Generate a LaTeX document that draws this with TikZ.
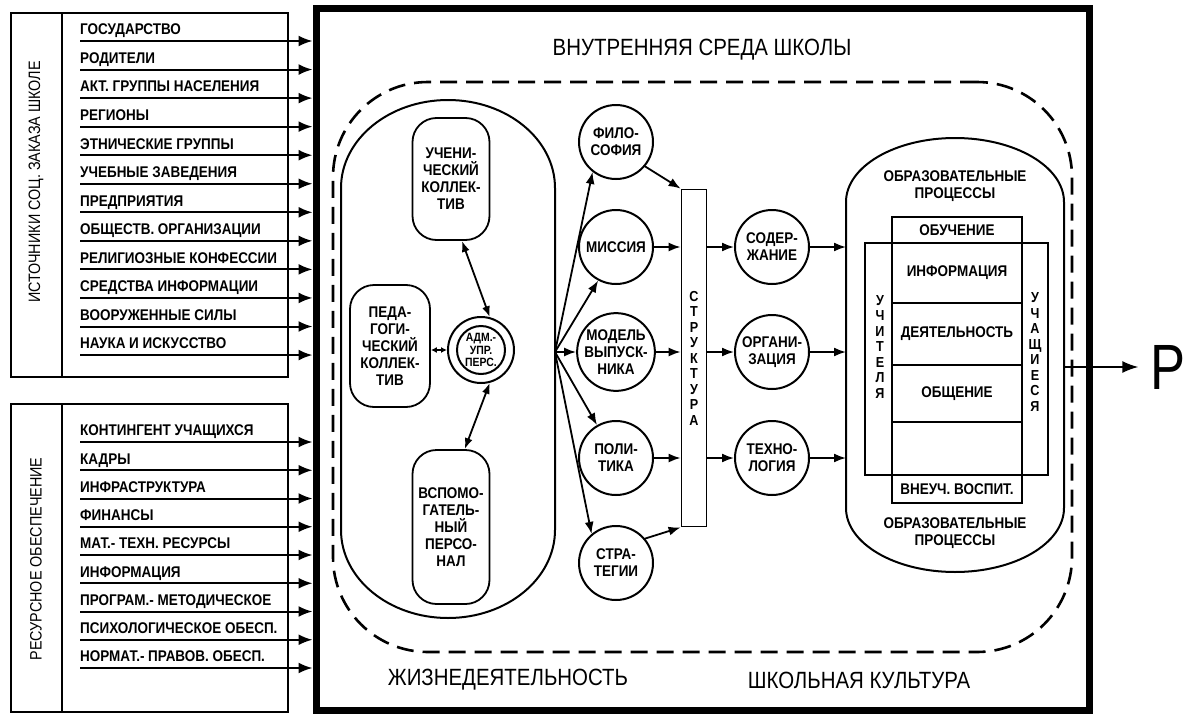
\documentclass[tikz,border=0pt]{standalone}
\usepackage{fontspec}
\setmainfont{Liberation Sans}
\newfontfamily\condfont[FakeStretch=0.87]{Liberation Sans}
\newfontfamily\narrowfont[FakeStretch=0.82]{Liberation Sans}
\usetikzlibrary{arrows.meta,positioning,calc}
\tikzset{
  lbl/.style  ={font=\condfont\bfseries\fontsize{15.5}{17}\selectfont,
                inner sep=0pt,align=center},
  src/.style  ={lbl,anchor=south west,inner ysep=3pt,text depth=3pt},
  ttl/.style  ={font=\condfont\fontsize{23.5}{26}\selectfont,inner sep=0pt},
  tag/.style  ={font=\condfont\fontsize{16.5}{18}\selectfont,inner sep=0pt,
                rotate=90},
  panel/.style={draw,line width=1.8pt,inner sep=0pt,anchor=north west},
  pill/.style ={lbl,draw,line width=1.8pt,rounded corners=24pt,
                minimum width=77pt},
  circ/.style ={lbl,circle,draw,line width=2pt,minimum size=74pt},
  cell/.style ={lbl,draw,line width=1.8pt,minimum width=130pt,outer sep=0pt},
  oval/.style ={line width=2pt},
  vstack/.style={lbl,font=\condfont\bfseries\fontsize{14.5}{15.5}\selectfont},
  arr/.style  ={-{Latex[length=14pt,width=11pt]},line width=2pt},
  arrs/.style ={-{Latex[length=12pt,width=9pt]},line width=1.8pt},
  dbl/.style  ={{Latex[length=11pt,width=8pt]}-{Latex[length=11pt,width=8pt]},
                line width=1.8pt},
}

\begin{document}
\begin{tikzpicture}[x=1pt,y=1pt]
  \useasboundingbox (0,0) rectangle (1187,-715);

  % school frame and titles
  \node[draw,line width=7pt,minimum width=773pt,minimum height=702pt,
        inner sep=0pt] (school) at (702.5,-359) {};
  \node[ttl] (title) at (702,-50) {ВНУТРЕННЯЯ СРЕДА ШКОЛЫ};
  \node[draw,dash pattern=on 17pt off 9pt,line width=2.6pt,
        rounded corners=95pt,minimum width=739pt,minimum height=570pt,
        inner sep=0pt] (culture) at (702.5,-367) {};
  \node[ttl] (life) at (508,-680) {ЖИЗНЕДЕЯТЕЛЬНОСТЬ};
  \node[ttl] (cult) at (859,-680) {ШКОЛЬНАЯ КУЛЬТУРА};

  % sources of the social order
  \node[panel,minimum width=277pt,minimum height=364pt] (order)  at (10,-12) {};
  \node[panel,minimum width=51pt,minimum height=364pt]  (ordtag) at (10,-12) {};
  \node[tag] (ordlbl) at (36,-182) {ИСТОЧНИКИ СОЦ. ЗАКАЗА ШКОЛЕ};
  \foreach \name [count=\i] in {ГОСУДАРСТВО, РОДИТЕЛИ, АКТ. ГРУППЫ НАСЕЛЕНИЯ,
      РЕГИОНЫ, ЭТНИЧЕСКИЕ ГРУППЫ, УЧЕБНЫЕ ЗАВЕДЕНИЯ, ПРЕДПРИЯТИЯ,
      ОБЩЕСТВ. ОРГАНИЗАЦИИ, РЕЛИГИОЗНЫЕ КОНФЕССИИ, СРЕДСТВА ИНФОРМАЦИИ,
      ВООРУЖЕННЫЕ СИЛЫ, НАУКА И ИСКУССТВО}{
    \node[src] (ord\i) at (80,{-41-(\i-1)*28.55}) {\name};
    \draw[arr] (ord\i.south west) -- (ord\i.south west -| school.west);
  }

  % resources
  \node[panel,minimum width=277pt,minimum height=308pt] (supply)  at (10,-403) {};
  \node[panel,minimum width=51pt,minimum height=308pt]  (suptag)  at (10,-403) {};
  \node[tag] (suplbl) at (36,-559) {РЕСУРСНОЕ ОБЕСПЕЧЕНИЕ};
  \foreach \name [count=\i] in {КОНТИНГЕНТ УЧАЩИХСЯ, КАДРЫ, ИНФРАСТРУКТУРА,
      ФИНАНСЫ, МАТ.- ТЕХН. РЕСУРСЫ, ИНФОРМАЦИЯ, ПРОГРАМ.- МЕТОДИЧЕСКОЕ,
      ПСИХОЛОГИЧЕСКОЕ ОБЕСП., НОРМАТ.- ПРАВОВ. ОБЕСП.}{
    \node[src] (sup\i) at (80,{-442-(\i-1)*28.25}) {\name};
    \draw[arr] (sup\i.south west) -- (sup\i.south west -| school.west);
  }

  % life of the school
  \node[minimum width=214pt,minimum height=518pt,inner sep=0pt,outer sep=0pt]
       (lifeo) at (448,-359) {};
  \draw[oval] ([yshift=-88pt]lifeo.north west)
      arc[start angle=180,end angle=0,x radius=107pt,y radius=88pt]
      -- ([yshift=88pt]lifeo.south east)
      arc[start angle=0,end angle=-180,x radius=107pt,y radius=88pt] -- cycle;
  \node[pill,minimum height=122pt] (pupils) at (451,-179)
       {УЧЕНИ-\\ЧЕСКИЙ\\КОЛЛЕК-\\ТИВ};
  \node[pill,minimum height=122pt,minimum width=80pt] (teachers) at (390,-346)
       {ПЕДА-\\ГОГИ-\\ЧЕСКИЙ\\КОЛЛЕК-\\ТИВ};
  \node[circ,minimum size=66pt,font=\condfont\bfseries\fontsize{12}{12.5}\selectfont]
       (admin) at (481,-350) {АДМ.-\\УПР.\\ПЕРС.};
  \draw[oval] (admin) circle[radius=24pt];
  \node[pill,minimum height=154pt] (staff) at (451,-527)
       {ВСПОМО-\\ГАТЕЛЬ-\\НЫЙ\\ПЕРСО-\\НАЛ};
  \draw[dbl] (pupils.-80) -- (admin.75);
  \draw[{Latex[length=6pt,width=6pt]}-{Latex[length=6pt,width=6pt]},
        line width=1.8pt] (teachers.east |- admin) -- (admin.west);
  \draw[dbl] (admin.-75) -- (staff.80);

  % goals
  \node[circ] (phil)  at (616,-142) {ФИЛО-\\СОФИЯ};
  \node[circ] (miss)  at (616,-247) {МИССИЯ};
  \node[circ] (model) at (616,-352) {МОДЕЛЬ\\ВЫПУСК-\\НИКА};
  \node[circ] (pol)   at (616,-458) {ПОЛИ-\\ТИКА};
  \node[circ] (strat) at (616,-563) {СТРА-\\ТЕГИИ};
  \coordinate (hub) at (lifeo.east |- model);
  \draw[arrs] (hub) -- (phil.-128);
  \draw[arrs] (hub) -- (miss.-118);
  \draw[arrs] (hub) -- (model.west);
  \draw[arrs] (hub) -- (pol.120);
  \draw[arrs] (hub) -- (strat.130);

  % structure
  \node[vstack,draw,line width=1.8pt,minimum width=25pt,minimum height=337pt]
       (struct) at (694,-358) {С\\Т\\Р\\У\\К\\Т\\У\\Р\\А};
  \draw[arrs] (phil.-40)  -- (struct.north west);
  \draw[arrs] (miss.east) -- (miss -| struct.west);
  \draw[arrs] (model.east) -- (model -| struct.west);
  \draw[arrs] (pol.east)  -- (pol -| struct.west);
  \draw[arrs] (strat.40)  -- (struct.south west);

  % means
  \node[circ] (cont) at (772,-247) {СОДЕР-\\ЖАНИЕ};
  \node[circ] (org)  at (772,-352) {ОРГАНИ-\\ЗАЦИЯ};
  \node[circ] (tech) at (772,-458) {ТЕХНО-\\ЛОГИЯ};
  \foreach \m in {cont,org,tech}{
    \draw[arrs] (struct.east |- \m) -- (\m.west);
  }

  % educational processes
  \node[minimum width=218pt,minimum height=434pt,inner sep=0pt,outer sep=0pt]
       (eduo) at (955,-355) {};
  \draw[oval] ([yshift=-64pt]eduo.north west)
      arc[start angle=180,end angle=0,x radius=109pt,y radius=64pt]
      -- ([yshift=64pt]eduo.south east)
      arc[start angle=0,end angle=-180,x radius=109pt,y radius=64pt] -- cycle;
  \foreach \m in {cont,org,tech}{
    \draw[arrs] (\m.east) -- (\m -| eduo.west);
  }
  \node[lbl] (edutop) at (955,-186) {ОБРАЗОВАТЕЛЬНЫЕ\\ПРОЦЕССЫ};
  \node[lbl] (edubot) at (955,-533) {ОБРАЗОВАТЕЛЬНЫЕ\\ПРОЦЕССЫ};
  \node[draw,line width=1.8pt,minimum width=183pt,minimum height=232pt,
        inner sep=0pt] (actors) at (956.5,-359) {};
  \node[cell,minimum height=26pt] (study) at (957,-230) {ОБУЧЕНИЕ};
  \node[cell,minimum height=60pt,below=0pt of study]    (info)  {ИНФОРМАЦИЯ};
  \node[cell,minimum height=62pt,below=0pt of info]     (act)   {ДЕЯТЕЛЬНОСТЬ};
  \node[cell,minimum height=57pt,below=0pt of act]      (talk)  {ОБЩЕНИЕ};
  \node[cell,minimum height=53pt,below=0pt of talk]     (spare) {};
  \node[cell,minimum height=28pt,below=0pt of spare]    (extra) {ВНЕУЧ. ВОСПИТ.};
  \node[vstack] (tchr) at (880,-347) {У\\Ч\\И\\Т\\Е\\Л\\Я};
  \node[vstack] (stud) at (1035,-352) {У\\Ч\\А\\Щ\\И\\Е\\С\\Я};

  % result
  \node[font=\narrowfont\fontsize{64}{64}\selectfont,inner sep=0pt]
       (result) at (1168,-367) {Р};
  \draw[-{Latex[length=16pt,width=12pt]},line width=1.5pt,shorten >=12pt]
       (eduo.east |- result) -- (result.west);
\end{tikzpicture}
\end{document}
